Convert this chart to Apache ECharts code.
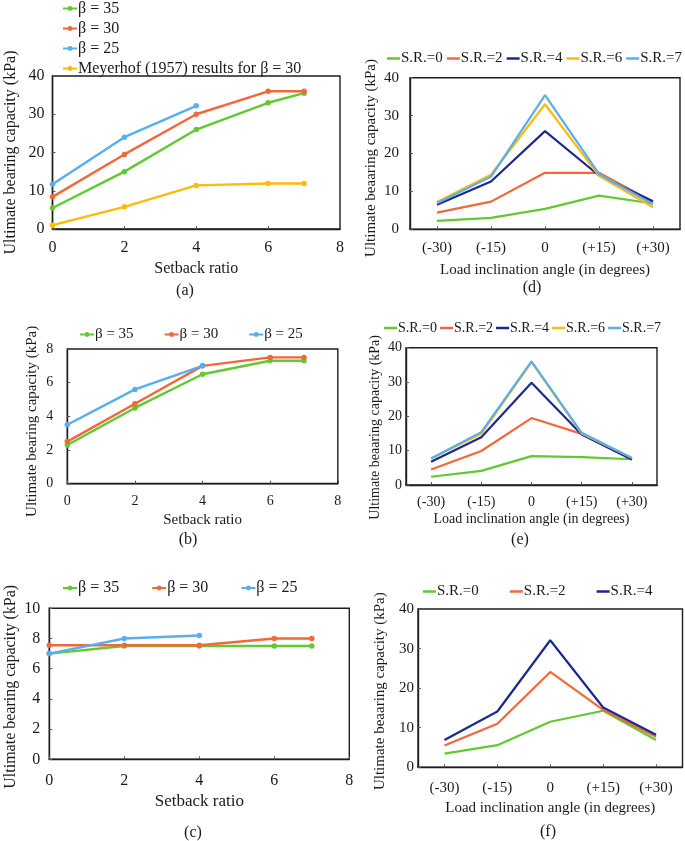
<!DOCTYPE html>
<html><head><meta charset="utf-8">
<script src="https://cdn.jsdelivr.net/npm/echarts@6/dist/echarts.min.js"></script>
<style>html,body{margin:0;padding:0;background:#fff}#c{width:685px;height:841px}</style>
</head><body><div id="c"></div>
<script>
// ---- data ----
const setbackX = [0, 2, 4, 6, 7];
const setbackX25 = [0, 2, 4];
const angleCats = ['(-30)', '(-15)', '0', '(+15)', '(+30)'];
const betaNames = ['β = 35', 'β = 30', 'β = 25'];
const meyerName = 'Meyerhof (1957) results for β = 30';
const srNames = ['S.R.=0', 'S.R.=2', 'S.R.=4', 'S.R.=6', 'S.R.=7'];

const a_b35 = [5.5, 15, 26, 33, 35.5];
const a_b30 = [8.4, 19.5, 30, 36, 36];
const a_b25 = [11.7, 24, 32.2];
const a_meyer = [1, 5.8, 11.4, 11.9, 11.9];

const b_b35 = [2.3, 4.5, 6.5, 7.3, 7.3];
const b_b30 = [2.5, 4.75, 7, 7.5, 7.5];
const b_b25 = [3.5, 5.6, 7];

const c_b35 = [7, 7.5, 7.5, 7.5, 7.5];
const c_b30 = [7.55, 7.55, 7.55, 8, 8];
const c_b25 = [7, 8, 8.2];

const d_sr0 = [2.2, 3, 5.4, 8.9, 6.8];
const d_sr2 = [4.4, 7.3, 14.9, 14.9, 7.2];
const d_sr4 = [6.5, 12.6, 25.9, 14.2, 7.4];
const d_sr6 = [7.2, 14.4, 33, 14.1, 5.8];
const d_sr7 = [6.9, 13.9, 35.4, 14.6, 6.6];

const e_sr0 = [2.4, 4.1, 8.4, 8.1, 7.5];
const e_sr2 = [4.5, 9.9, 19.5, 14.9, 7.5];
const e_sr4 = [6.8, 13.9, 29.8, 14.7, 7.4];
const e_sr6 = [7.7, 14.9, 35.8, 15, 7.9];
const e_sr7 = [7.7, 15.4, 36, 15.2, 7.9];

const f_sr0 = [3.45, 5.6, 11.5, 14.3, 6.9];
const f_sr2 = [5.5, 11, 24.1, 14.5, 7.7];
const f_sr4 = [6.9, 14.1, 32.1, 15.1, 8.25];

// ---- styles ----
const FONT = '"Liberation Serif","Times New Roman",serif';
const COL = {green: '#62C933', orange: '#F2683A', blue: '#57AFF0', yellow: '#FFBA0A', navy: '#1B2A8C'};
const TXT = '#1a1a1a';

const gridDefs = [
  {left: 52.5, top: 76, width: 287.5, height: 153},
  {left: 67.3, top: 349, width: 270.5, height: 134.7},
  {left: 49.3, top: 608.3, width: 300, height: 151},
  {left: 410, top: 77.7, width: 270, height: 151.6},
  {left: 406, top: 347.7, width: 251, height: 137.3},
  {left: 418, top: 609, width: 264.5, height: 158.3}
];
const grid = gridDefs.map(g => Object.assign({show: true, borderColor: '#1e1e1e', borderWidth: 1.4, backgroundColor: 'transparent'}, g));

function valX(gi, fs, nameGap, nfs, lm) {
  return {gridIndex: gi, type: 'value', min: 0, max: 8, interval: 2,
    name: 'Setback ratio', nameLocation: 'middle', nameGap: nameGap,
    nameTextStyle: {fontFamily: FONT, fontSize: nfs, color: TXT},
    axisLine: {show: true, lineStyle: {color: '#1e1e1e', width: 1.4}},
    axisTick: {show: true, inside: true, length: 3, lineStyle: {color: '#555'}},
    axisLabel: {fontFamily: FONT, fontSize: fs, color: TXT, margin: lm},
    splitLine: {show: false}};
}
function catX(gi, fs, nameGap, nfs, lm) {
  return {gridIndex: gi, type: 'category', data: angleCats, boundaryGap: true,
    name: 'Load inclination angle (in degrees)', nameLocation: 'middle', nameGap: nameGap,
    nameTextStyle: {fontFamily: FONT, fontSize: nfs, color: TXT},
    axisLine: {show: true, lineStyle: {color: '#1e1e1e', width: 1.4}},
    axisTick: {show: true, inside: true, length: 3, alignWithLabel: true, lineStyle: {color: '#555'}},
    axisLabel: {fontFamily: FONT, fontSize: fs, color: TXT, margin: lm, interval: 0},
    splitLine: {show: false}};
}
function valY(gi, max, interval, name, fs, nameGap, nfs, lm, shift) {
  return {gridIndex: gi, type: 'value', min: 0, max: max, interval: interval,
    name: name, nameLocation: 'middle', nameGap: nameGap, nameRotate: 90,
    nameTextStyle: {fontFamily: FONT, fontSize: nfs, color: TXT, padding: [0, shift || 0, 0, 0]},
    axisLine: {show: true, lineStyle: {color: '#1e1e1e', width: 1.4}},
    axisTick: {show: true, inside: true, length: 3, lineStyle: {color: '#555'}},
    axisLabel: {fontFamily: FONT, fontSize: fs, color: TXT, margin: lm},
    splitLine: {show: false}};
}
const Y1 = 'Ultimate bearing capacity (kPa)';
const Y2 = 'Ultimate beaaring capacity (kPa)';

const xAxis = [
  valX(0, 16, 32, 16, 11),
  valX(1, 14, 29, 15, 11),
  valX(2, 16, 34, 17, 13),
  catX(3, 15, 33, 15, 11),
  catX(4, 14, 27, 14, 10),
  catX(5, 15, 33, 15, 13)
];
const yAxis = [
  valY(0, 40, 10, Y1, 16, 34, 16, 8, 0),
  valY(1, 8, 2, Y1, 14, 28, 15, 14, 10),
  valY(2, 10, 2, Y1, 16, 31, 16, 9, 6),
  valY(3, 40, 10, Y2, 15, 31, 15, 11, 9),
  valY(4, 40, 10, Y2, 14, 24, 14, 4, 22),
  valY(5, 40, 10, Y2, 15, 30, 15, 4, 6)
];

function pairs(xs, ys) { return ys.map((y, i) => [xs[i], y]); }
function lineMarked(gi, name, color, xs, ys) {
  return {type: 'line', name: name, xAxisIndex: gi, yAxisIndex: gi, data: pairs(xs, ys),
    symbol: 'circle', symbolSize: 5.5, showSymbol: true,
    lineStyle: {color: color, width: 2.4}, itemStyle: {color: color}, animation: false};
}
function linePlain(gi, name, color, ys) {
  return {type: 'line', name: name, xAxisIndex: gi, yAxisIndex: gi, data: ys,
    symbol: 'none', lineStyle: {color: color, width: 2.2}, itemStyle: {color: color}, animation: false};
}

const series = [
  lineMarked(0, betaNames[0], COL.green, setbackX, a_b35),
  lineMarked(0, betaNames[1], COL.orange, setbackX, a_b30),
  lineMarked(0, betaNames[2], COL.blue, setbackX25, a_b25),
  lineMarked(0, meyerName, COL.yellow, setbackX, a_meyer),
  lineMarked(1, betaNames[0], COL.green, setbackX, b_b35),
  lineMarked(1, betaNames[1], COL.orange, setbackX, b_b30),
  lineMarked(1, betaNames[2], COL.blue, setbackX25, b_b25),
  lineMarked(2, betaNames[0], COL.green, setbackX, c_b35),
  lineMarked(2, betaNames[1], COL.orange, setbackX, c_b30),
  lineMarked(2, betaNames[2], COL.blue, setbackX25, c_b25),
  linePlain(3, srNames[0], COL.green, d_sr0),
  linePlain(3, srNames[1], COL.orange, d_sr2),
  linePlain(3, srNames[2], COL.navy, d_sr4),
  linePlain(3, srNames[3], COL.yellow, d_sr6),
  linePlain(3, srNames[4], COL.blue, d_sr7),
  linePlain(4, srNames[0], COL.green, e_sr0),
  linePlain(4, srNames[1], COL.orange, e_sr2),
  linePlain(4, srNames[2], COL.navy, e_sr4),
  linePlain(4, srNames[3], COL.yellow, e_sr6),
  linePlain(4, srNames[4], COL.blue, e_sr7),
  linePlain(5, srNames[0], COL.green, f_sr0),
  linePlain(5, srNames[1], COL.orange, f_sr2),
  linePlain(5, srNames[2], COL.navy, f_sr4)
];

function ts(fs) { return {fontFamily: FONT, fontSize: fs, color: TXT, padding: [0, 0, 0, -4]}; }
// legends with line + small marker (a, b, c)
function lgM(o) {
  return Object.assign({selectedMode: false, padding: 0, itemWidth: 14, itemHeight: 6, width: 400}, o);
}
// legends with plain line icon (d, e, f)
function lgL(o) {
  return Object.assign({selectedMode: false, padding: 0, itemWidth: 13, itemHeight: 2.5, icon: 'rect', width: 320}, o);
}
const legend = [
  lgM({orient: 'vertical', left: 62, top: 0.5, itemGap: 4,
      data: [betaNames[0], betaNames[1], betaNames[2], meyerName], textStyle: ts(16)}),
  lgM({left: 79, top: 327, itemGap: 30, data: betaNames, textStyle: ts(15)}),
  lgM({left: 62, top: 580, itemGap: 32, data: betaNames, textStyle: ts(16)}),
  lgL({left: 387, top: 51, itemGap: 4, data: srNames, textStyle: ts(15)}),
  lgL({left: 384, top: 321, itemGap: 3, data: srNames, textStyle: ts(14)}),
  lgL({left: 423, top: 584, itemGap: 31, data: srNames.slice(0, 3), textStyle: ts(15)})
];

function cap(t, x, y) {
  return {type: 'text', x: x, y: y, style: {text: t, fontFamily: FONT, fontSize: 16, fill: TXT,
    textAlign: 'center', textVerticalAlign: 'middle'}};
}
const graphic = [
  cap('(a)', 185, 291), cap('(b)', 188, 540), cap('(c)', 193, 833),
  cap('(d)', 532, 288), cap('(e)', 520, 540), cap('(f)', 548, 832)
];

const chart = echarts.init(document.getElementById('c'), null, {renderer: 'canvas'});
chart.setOption({animation: false, backgroundColor: '#fff', grid, xAxis, yAxis, series, legend, graphic,
  tooltip: {show: false}});
</script></body></html>
